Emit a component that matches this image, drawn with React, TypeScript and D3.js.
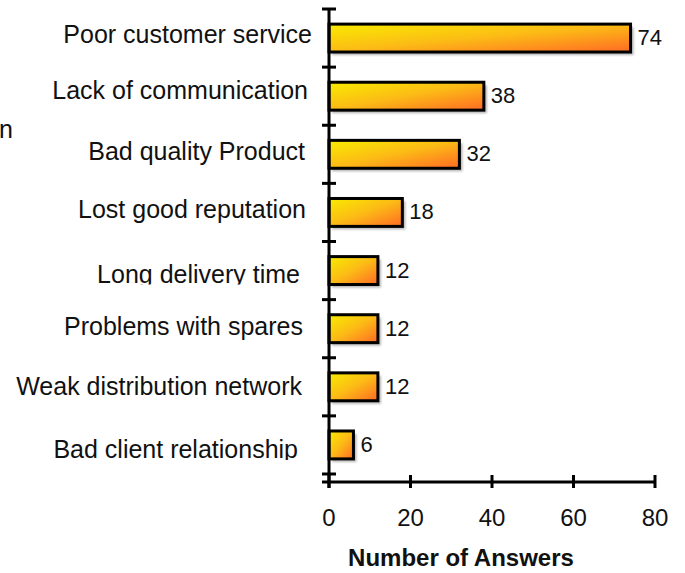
import React from "react";
import * as d3 from "d3";

const categories = [
  "Poor customer service",
  "Lack of communication",
  "Bad quality Product",
  "Lost good reputation",
  "Long delivery time",
  "Problems with spares",
  "Weak distribution network",
  "Bad client relationship",
];
const answers = [74, 38, 32, 18, 12, 12, 12, 6];
const xTicks = [0, 20, 40, 60, 80];
const xTitle = "Number of Answers";
const strayText = "n";

// small per-label placement tweaks (style only)
const labelDx = [6, 2, -1, 0, -6, -3, -4, -8];
const labelDy = [5, 3, 6, 6, 12, 6, 8, 13];
const labelClip = [false, false, false, false, true, false, false, true];

const W = 685;
const H = 573;
const FONT = "'Liberation Sans', Arial, Helvetica, sans-serif";

export default function App() {
  const x = d3.scaleLinear().domain([0, 80]).range([329, 655]);
  const y = d3.scaleBand<string>().domain(categories).range([9, 474]).padding(0);
  const bw = y.bandwidth();
  const barH = bw * 0.48;
  const boundaries = d3.range(categories.length + 1).map((i) => 9 + i * bw);
  const axisY = 482;

  return (
    <svg
      width={W}
      height={H}
      style={{ position: "absolute", left: 0, top: 0, background: "#fff" }}
      fontFamily={FONT}
    >
      <defs>
        <linearGradient id="barGrad" x1="0" y1="0" x2="1" y2="1">
          <stop offset="0" stopColor="#f8ec00" />
          <stop offset="0.5" stopColor="#fcba16" />
          <stop offset="1" stopColor="#ff6a24" />
        </linearGradient>
        <filter id="shadowBlur" x="-10%" y="-10%" width="120%" height="140%">
          <feGaussianBlur stdDeviation="0.8" />
        </filter>
        {categories.map((c, i) => {
          const cy = (y(c) as number) + bw / 2;
          return (
            <clipPath id={`lc${i}`} key={c}>
              <rect x={0} y={cy - 30} width={320} height={30 + labelDy[i] + 2} />
            </clipPath>
          );
        })}
      </defs>

      <text x={-1} y={138} fontSize={25} fill="#111">
        {strayText}
      </text>

      {/* category labels */}
      {categories.map((c, i) => {
        const cy = (y(c) as number) + bw / 2;
        return (
          <text
            key={c}
            x={306 + labelDx[i]}
            y={cy + labelDy[i]}
            textAnchor="end"
            fontSize={25}
            fill="#111"
            clipPath={labelClip[i] ? `url(#lc${i})` : undefined}
          >
            {c}
          </text>
        );
      })}

      {/* bars */}
      {categories.map((c, i) => {
        const cy = (y(c) as number) + bw / 2;
        const x0 = x(0);
        const w = x(answers[i]) - x0;
        return (
          <g key={c}>
            <rect
              x={x0 + 3}
              y={cy - barH / 2 + 3}
              width={w}
              height={barH}
              fill="#9a9a9a"
              opacity={0.75}
              filter="url(#shadowBlur)"
            />
            <rect
              x={x0}
              y={cy - barH / 2}
              width={w}
              height={barH}
              fill="url(#barGrad)"
              stroke="#000"
              strokeWidth={3}
            />
            <text x={x(answers[i]) + 7} y={cy + 7} fontSize={22} fill="#111">
              {answers[i]}
            </text>
          </g>
        );
      })}

      {/* y axis */}
      <line x1={x(0)} x2={x(0)} y1={9} y2={488} stroke="#000" strokeWidth={3} />
      {boundaries.map((b, i) => (
        <line key={i} x1={322} x2={336} y1={b} y2={b} stroke="#000" strokeWidth={3} />
      ))}

      {/* x axis */}
      <line x1={322} x2={x(80) + 1} y1={axisY} y2={axisY} stroke="#000" strokeWidth={3} />
      {xTicks.map((t) => (
        <g key={t}>
          <line x1={x(t)} x2={x(t)} y1={axisY - 7} y2={axisY + 6} stroke="#000" strokeWidth={3} />
          <text x={x(t)} y={526} textAnchor="middle" fontSize={24} fill="#111">
            {t}
          </text>
        </g>
      ))}

      <text x={461} y={566} textAnchor="middle" fontSize={24} fontWeight="bold" fill="#111">
        {xTitle}
      </text>
    </svg>
  );
}
